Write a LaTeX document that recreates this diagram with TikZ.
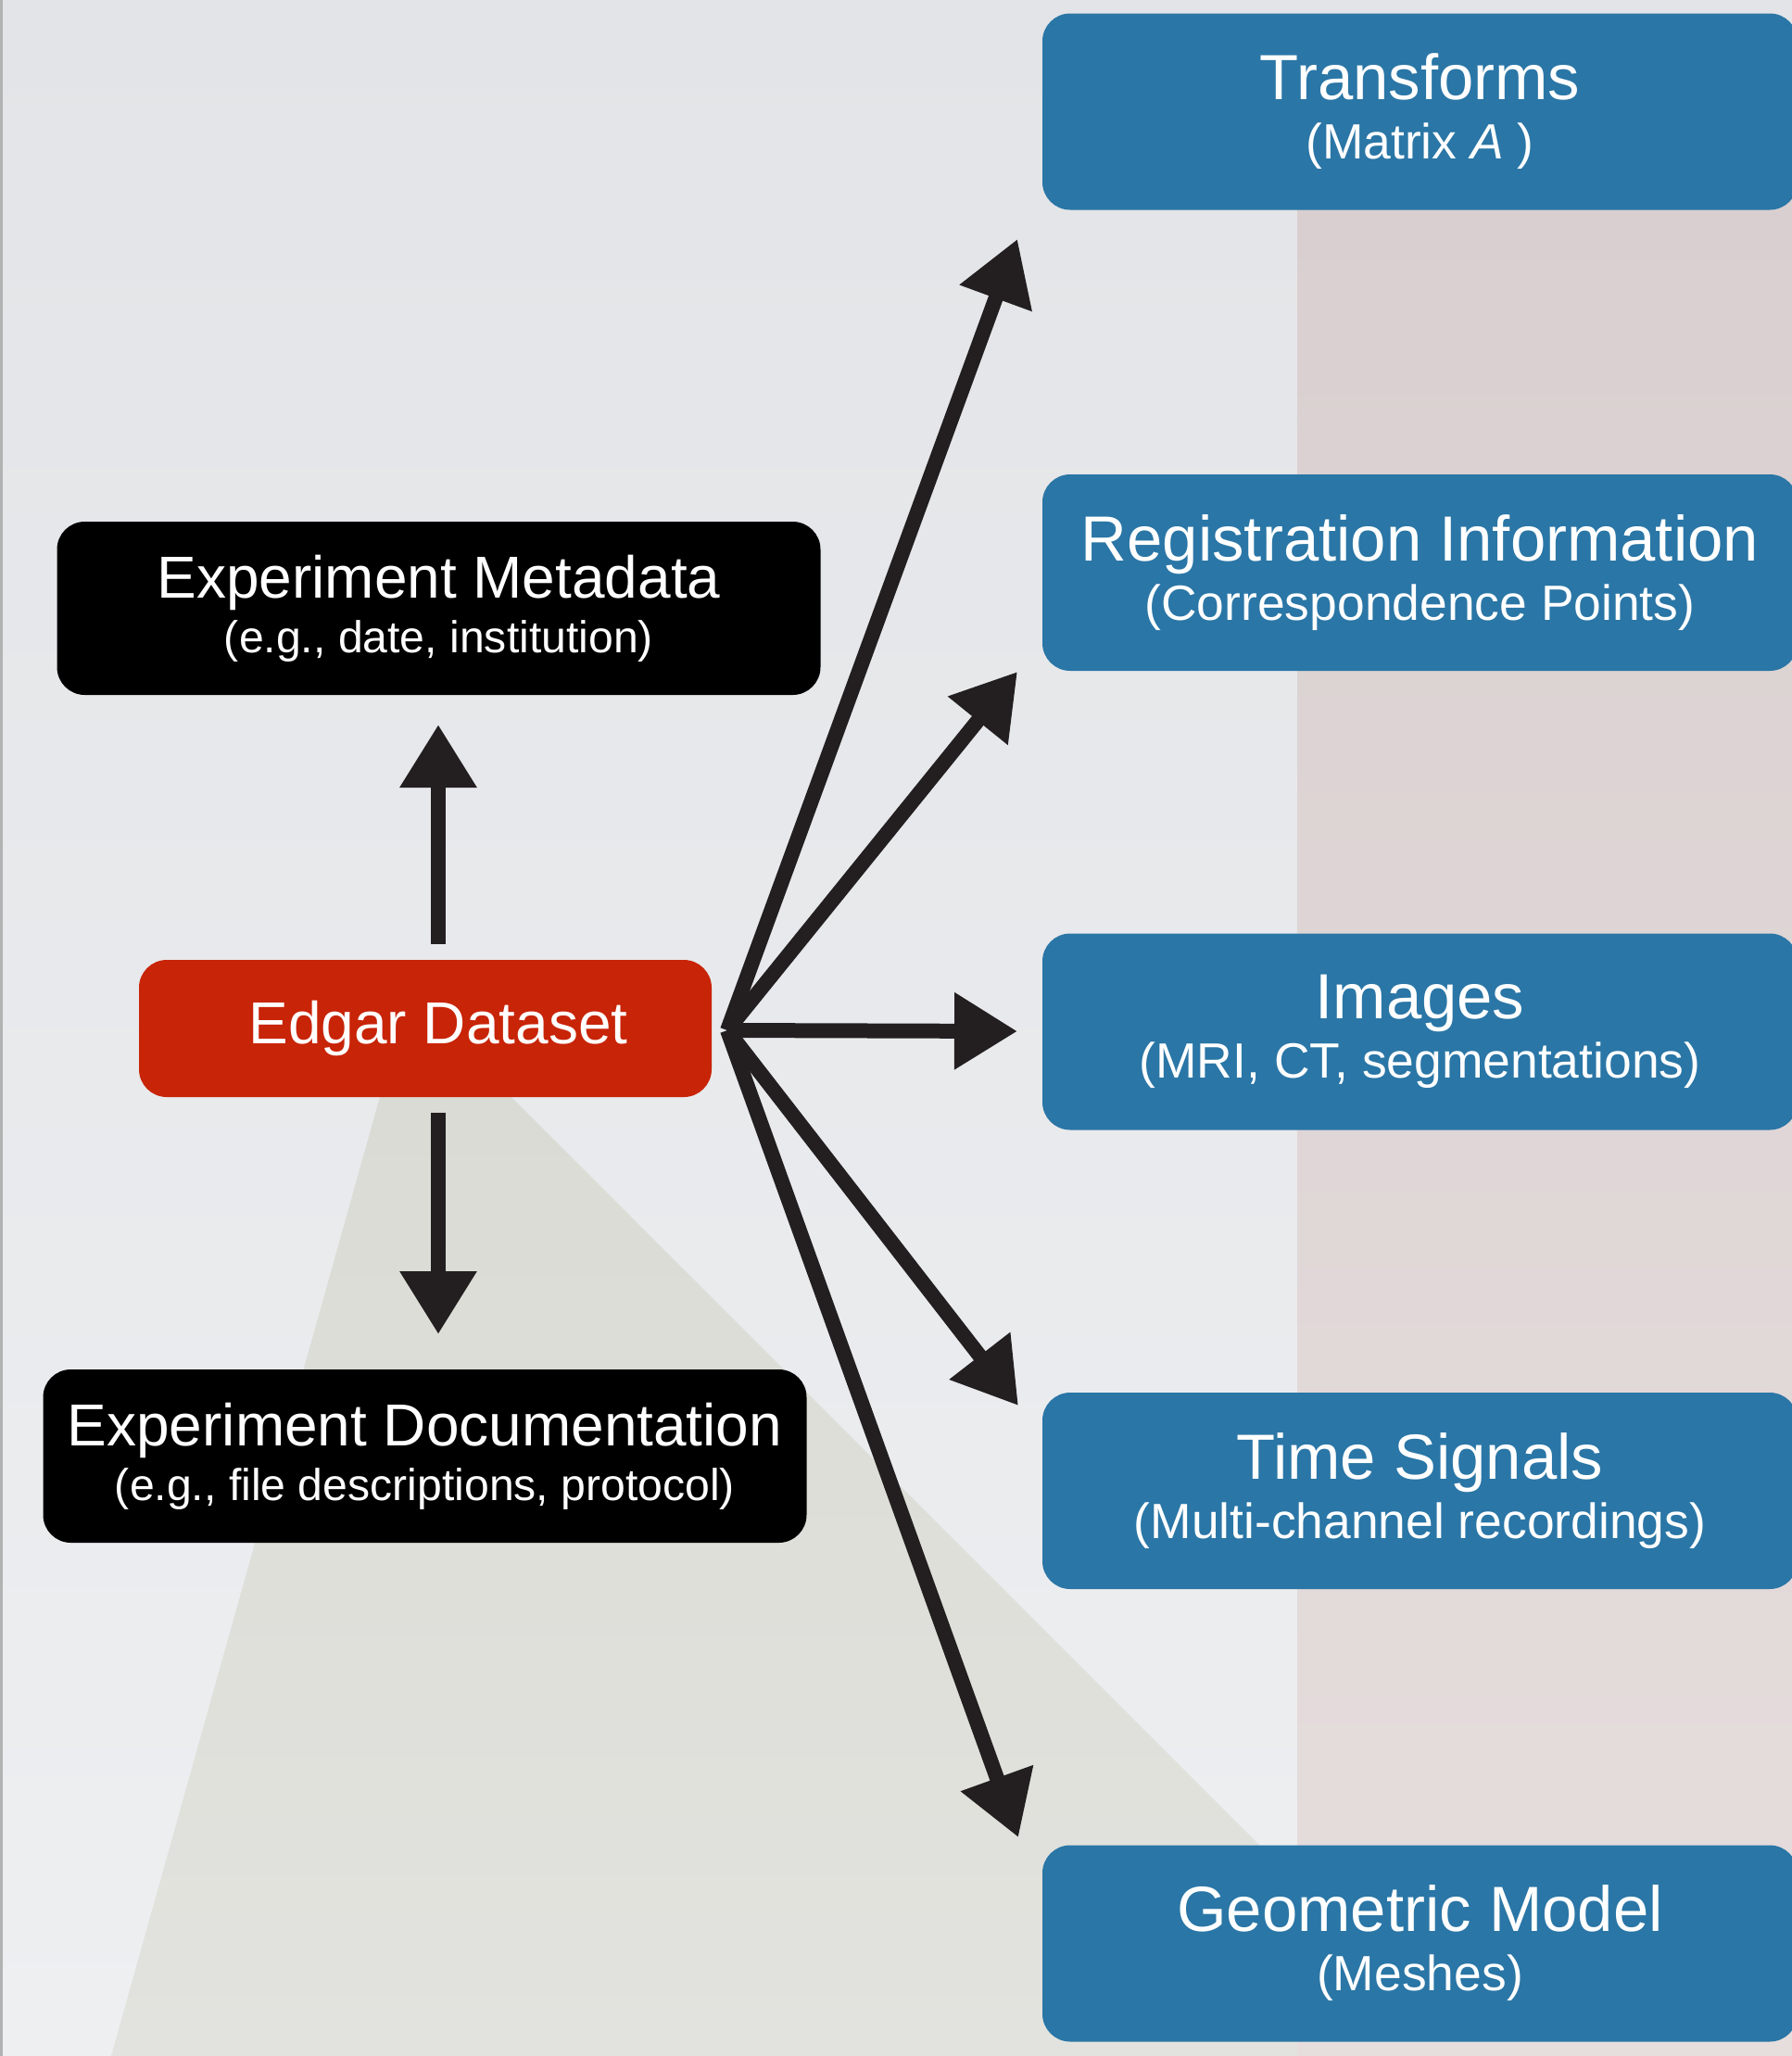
\documentclass[tikz,border=0pt]{standalone}
\usepackage{fontspec}
\setmainfont{Liberation Sans}
\usepackage{tikz}
\usetikzlibrary{positioning,calc,arrows.meta}

\definecolor{boxblue}{RGB}{42,118,166}
\definecolor{boxred}{RGB}{200,36,8}
\definecolor{arrowgray}{RGB}{35,31,32}
\definecolor{bgtop}{RGB}{226,228,231}
\definecolor{bgbottom}{RGB}{238,239,241}
\definecolor{pinktop}{RGB}{217,207,208}
\definecolor{pinkbottom}{RGB}{230,221,221}
\definecolor{greentop}{RGB}{218,219,212}
\definecolor{greenbottom}{RGB}{226,227,222}

\newcommand{\boxtitle}[1]{{\fontsize{19.6}{18.2}\selectfont #1}}
\newcommand{\sidetitle}[1]{{\fontsize{18.2}{16.7}\selectfont #1}}

\tikzset{
  box/.style={rectangle, rounded corners=0.3cm, text=white, align=center,
    inner sep=0pt, font=\fontsize{15.2}{18.2}\selectfont},
  bluebox/.style={box, fill=boxblue, minimum width=8.15cm, minimum height=2.12cm},
  blackbox/.style={box, fill=black, minimum width=8.24cm, minimum height=1.87cm,
    font=\fontsize{13.7}{16.7}\selectfont},
  fat/.style={line width=0.16cm, arrowgray, -{Triangle[length=0.68cm,width=0.79cm]}}
}

\begin{document}
\begin{tikzpicture}

 % background
 \useasboundingbox (0,0) rectangle (19.34,-22.19);
 \shade[top color=bgtop, bottom color=bgbottom] (0,0) rectangle (19.34,-22.19);
 \shade[top color=pinktop, bottom color=pinkbottom] (14.0,-2.1) rectangle (19.34,-22.19);
 \shade[top color=greentop, bottom color=greenbottom]
   (4.10,-11.84) -- (5.52,-11.84) -- (14.0,-20.32) -- (14.0,-22.19) -- (1.20,-22.19) -- cycle;
 \draw[gray!60, line width=0.03cm] (0.015,0) -- (0.015,-22.19);

 % data products
 \node[bluebox] (trans) at (15.325,-1.205) {\boxtitle{Transforms}\\(Matrix \textit{A} )};
 \node[bluebox] (reg) at (15.325,-6.18) {\boxtitle{Registration Information}\\(Correspondence Points)};
 \node[bluebox] (img) at (15.325,-11.135) {\boxtitle{Images}\\(MRI, CT, segmentations)};
 \node[bluebox] (sig) at (15.325,-16.09) {\boxtitle{Time Signals}\\(Multi-channel recordings)};
 \node[bluebox] (geom) at (15.325,-20.975) {\boxtitle{Geometric Model}\\(Meshes)};

 \node[blackbox] (meta) at (4.735,-6.565) {\sidetitle{Experiment Metadata}\\(e.g., date, institution)};
 \node[box, fill=boxred, minimum width=6.18cm, minimum height=1.48cm] (edgar) at (4.59,-11.10)
   {\hspace*{0.28cm}\sidetitle{Edgar Dataset}};
 \node[blackbox] (doc) at (4.585,-15.715) {\sidetitle{Experiment Documentation}\\(e.g., file descriptions, protocol)};

 % arrows
 \coordinate (fan) at (7.85,-11.12);
 \coordinate (upfoot) at (4.73,-10.19);
 \coordinate (uptip) at (4.73,-7.82);
 \coordinate (downfoot) at (4.73,-12.01);
 \coordinate (downtip) at (4.73,-14.40);

 \draw[fat] (upfoot) -- (uptip);
 \draw[fat] (downfoot) -- (downtip);

 \draw[fat] (fan) -- (10.98,-2.58) coordinate (tiptrans);
 \draw[fat] (fan) -- (10.98,-7.25) coordinate (tipreg);
 \draw[fat] (fan) -- (10.98,-11.13) coordinate (tipimg);
 \draw[fat] (fan) -- (10.99,-15.17) coordinate (tipsig);
 \draw[fat] (fan) -- (10.99,-19.83) coordinate (tipgeom);

\end{tikzpicture}
\end{document}
